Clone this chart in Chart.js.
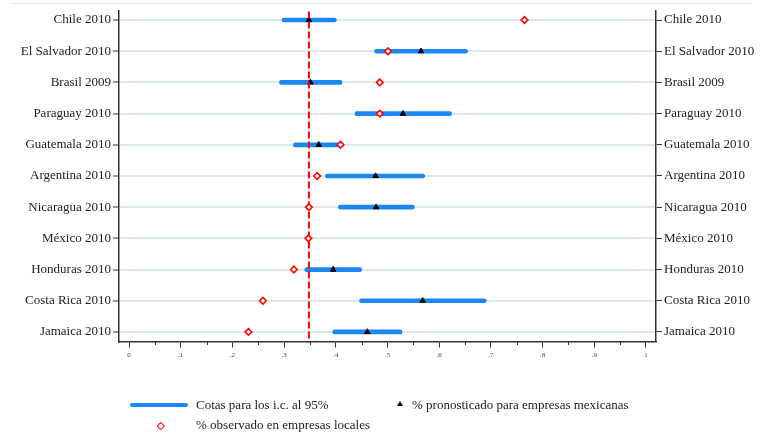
<!DOCTYPE html>
<html>
<head>
<meta charset="utf-8">
<script src="https://cdn.jsdelivr.net/npm/chart.js@4.4.1/dist/chart.umd.min.js"></script>
<style>
  html, body { margin: 0; padding: 0; background: #fff; overflow: hidden; }
  #wrap { position: relative; width: 761px; height: 437px; }
  #c { position: absolute; left: 0; top: 0; }
  .lg { position: absolute; font-family: "Liberation Serif", "DejaVu Serif", serif; font-size: 13px; color: #222; line-height: 14px; white-space: nowrap; }
  .mk { position: absolute; }
</style>
</head>
<body>
<div id="wrap">
  <canvas id="c" width="761" height="437"></canvas>
  <div class="mk" style="left:130px;top:403px;width:58px;height:4px;background:#1a87f5;border-radius:2px;"></div>
  <div class="lg" style="left:196px;top:398px;">Cotas para los i.c. al 95%</div>
  <div class="mk" style="left:397px;top:401px;width:0;height:0;border-left:3px solid transparent;border-right:3px solid transparent;border-bottom:5px solid #000;"></div>
  <div class="lg" style="left:412px;top:398px;">% pronosticado para empresas mexicanas</div>
  <div class="mk" style="left:157.5px;top:422.5px;width:3.5px;height:3.5px;border:1.5px solid #ff0000;background:#fff;transform:rotate(45deg);"></div>
  <div class="lg" style="left:196px;top:418px;">% observado en empresas locales</div>
</div>
<script>
const categories = ['Chile 2010','El Salvador 2010','Brasil 2009','Paraguay 2010','Guatemala 2010','Argentina 2010','Nicaragua 2010','México 2010','Honduras 2010','Costa Rica 2010','Jamaica 2010'];
const ciLow     = [0.296, 0.475, 0.291, 0.437, 0.318, 0.380, 0.405, null, 0.340, 0.446, 0.394];
const ciHigh    = [0.401, 0.655, 0.412, 0.624, 0.415, 0.572, 0.552, null, 0.450, 0.691, 0.528];
const predicted = [0.348, 0.565, 0.351, 0.530, 0.367, 0.477, 0.478, null, 0.395, 0.568, 0.461];
const observed  = [0.765, 0.501, 0.485, 0.485, 0.409, 0.364, 0.348, 0.347, 0.319, 0.259, 0.231];
const refLine = 0.348;
const xTickValues = [0, 0.1, 0.2, 0.3, 0.4, 0.5, 0.6, 0.7, 0.8, 0.9, 1];
const xTickLabels = ['0', '.1', '.2', '.3', '.4', '.5', '.6', '.7', '.8', '.9', '1'];
const xMinorTicks = [0.05, 0.15, 0.25, 0.35, 0.45, 0.55, 0.65, 0.75, 0.85, 0.95];

const ciData = [];
categories.forEach((c, i) => { if (ciLow[i] !== null) ciData.push({ y: i, x: [ciLow[i], ciHigh[i]] }); });
const predData = [];
categories.forEach((c, i) => { if (predicted[i] !== null) predData.push({ y: i, x: predicted[i] }); });
const obsData = observed.map((v, i) => ({ y: i, x: v }));

const tickFont = { family: '"Liberation Serif", "DejaVu Serif", serif', size: 13 };

const extras = {
  id: 'extras',
  beforeDraw(chart) {
    const ctx = chart.ctx;
    ctx.save();
    ctx.strokeStyle = '#e3eaee';
    ctx.lineWidth = 1;
    ctx.beginPath();
    ctx.moveTo(12, 3.5); ctx.lineTo(752, 3.5);
    ctx.stroke();
    ctx.restore();
  },
  afterDraw(chart) {
    const ctx = chart.ctx;
    const sx = chart.scales.x;
    const b = chart.chartArea.bottom;
    ctx.save();
    ctx.strokeStyle = '#333';
    ctx.lineWidth = 1;
    xMinorTicks.forEach(v => {
      const px = Math.round(sx.getPixelForValue(v)) + 0.5;
      ctx.beginPath();
      ctx.moveTo(px, b); ctx.lineTo(px, b + 3.5);
      ctx.stroke();
    });
    ctx.restore();
  }
};

new Chart(document.getElementById('c'), {
  type: 'bar',
  data: {
    datasets: [
      {
        type: 'bar', label: 'Cotas para los i.c. al 95%', data: ciData,
        backgroundColor: '#1a87f5', borderWidth: 0, barThickness: 4,
        borderRadius: 2, borderSkipped: false, order: 4
      },
      {
        type: 'scatter', label: '% pronosticado para empresas mexicanas', data: predData,
        pointStyle: 'triangle', pointRadius: 3.2, backgroundColor: '#000', borderColor: '#000',
        borderWidth: 1, order: 3
      },
      {
        type: 'scatter', label: 'ref', data: [{ x: refLine, y: -0.27 }, { x: refLine, y: 10.3 }],
        showLine: true, borderColor: '#ff0000', borderWidth: 2, borderDash: [7, 3],
        pointRadius: 0, order: 2
      },
      {
        type: 'scatter', label: '% observado en empresas locales', data: obsData,
        pointStyle: 'rectRot', pointRadius: 3.3, backgroundColor: '#fff', borderColor: '#ff0000',
        borderWidth: 1.6, order: 1
      }
    ]
  },
  options: {
    indexAxis: 'y',
    responsive: false,
    animation: false,
    events: [],
    layout: { padding: { top: 11, left: 0, right: 0, bottom: 0 } },
    plugins: { legend: { display: false }, tooltip: { enabled: false }, title: { display: false } },
    scales: {
      x: {
        type: 'linear', position: 'bottom', min: -0.01936, max: 1.01936, offset: false,
        afterBuildTicks: s => { s.ticks = xTickValues.map(v => ({ value: v })); },
        afterFit: s => { s.height = 437 - 341.6; },
        ticks: {
          callback: (v) => { const i = xTickValues.findIndex(t => Math.abs(t - v) < 1e-6); return i >= 0 ? xTickLabels[i] : ''; },
          font: { family: '"Liberation Serif", "DejaVu Serif", serif', size: 7 }, color: '#444', padding: 3,
          maxRotation: 0, autoSkip: false
        },
        grid: { offset: false, drawOnChartArea: false, drawTicks: true, tickLength: 6, tickColor: '#333', tickWidth: 1 },
        border: { display: true, color: '#333', width: 1.5 }
      },
      y: {
        type: 'linear', position: 'left', min: -0.29, max: 10.31, reverse: true, offset: false,
        afterBuildTicks: s => { s.ticks = categories.map((c, i) => ({ value: i })); },
        afterFit: s => { s.width = 119; },
        ticks: {
          callback: (v) => categories[v] !== undefined ? categories[v] : '',
          font: tickFont, color: '#222', padding: 2, autoSkip: false
        },
        grid: { offset: false, color: '#dde6ec', lineWidth: 2, tickColor: '#333', tickLength: 6, tickWidth: 1 },
        border: { display: true, color: '#333', width: 1.5 }
      },
      y2: {
        type: 'linear', position: 'right', min: -0.29, max: 10.31, reverse: true, offset: false,
        afterBuildTicks: s => { s.ticks = categories.map((c, i) => ({ value: i })); },
        afterFit: s => { s.width = 761 - 656; },
        ticks: {
          callback: (v) => categories[v] !== undefined ? categories[v] : '',
          font: tickFont, color: '#222', padding: 2, autoSkip: false
        },
        grid: { offset: false, drawOnChartArea: false, tickColor: '#333', tickLength: 6, tickWidth: 1 },
        border: { display: true, color: '#333', width: 1.5 }
      }
    }
  },
  plugins: [extras]
});
</script>
</body>
</html>
